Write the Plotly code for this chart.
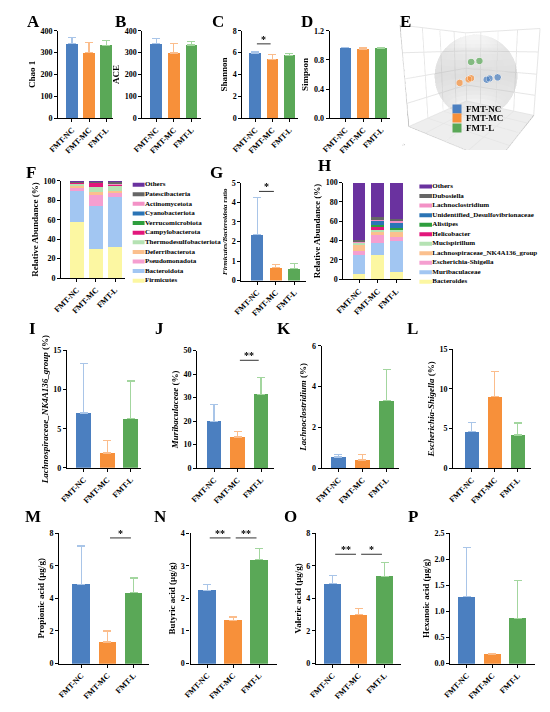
import numpy as np
import plotly.graph_objects as go

W, H = 550, 712
SERIF = 'Liberation Serif, Times New Roman, serif'

groups = ['FMT-NC', 'FMT-MC', 'FMT-L']
bar_colors = ['#4b7fc0', '#f7903a', '#5aa857']
err_colors = ['#a9c5e8', '#fbbd8c', '#a3d69f']

# alpha diversity (mean, sd)
chao1_mean = [340, 300, 333]
chao1_sd = [30, 46, 22]
ace_mean = [340, 298, 335]
ace_sd = [25, 44, 15]
shannon_mean = [5.97, 5.38, 5.77]
shannon_sd = [0.13, 0.42, 0.12]
simpson_mean = [0.97, 0.95, 0.96]
simpson_sd = [0.004, 0.015, 0.004]

# PCA scores
pca_t1 = [12, 14, 22, -22, -10, -8, -5, 2]
pca_t2 = [-1, 0, 2, -9, -4, -3, 12, 13]
pca_t3 = [-3, -2, -4, 5, 3, 4, 0, 2]
pca_grp = [0, 0, 0, 1, 1, 1, 2, 2]

# phylum composition (%), bottom to top
phyla = ['Firmicutes', 'Bacteroidota', 'Pseudomonadota', 'Deferribacterota',
         'Thermodesulfobacteriota', 'Campylobacterota', 'Verrucomicrobiota',
         'Cyanobacteriota', 'Actinomycetota', 'Patescibacteria', 'Others']
phylum_nc = [58.0, 31.2, 4.5, 1.5, 2.5, 0.3, 0.2, 0.2, 0.5, 0.8, 0.3]
phylum_mc = [29.8, 44.8, 11.0, 2.5, 5.5, 4.5, 0.3, 0.2, 0.3, 0.8, 0.3]
phylum_l = [31.5, 51.9, 4.5, 1.5, 6.0, 0.5, 0.3, 0.3, 0.5, 2.0, 1.0]

# genus composition (%), bottom to top
genera = ['Bacteroides', 'Muribaculaceae', 'Escherichia-Shigella',
          'Lachnospiraceae_NK4A136_group', 'Mucispirillum', 'Helicobacter',
          'Alistipes', 'Unidentified_Desulfovibrionaceae', 'Lachnoclostridium',
          'Dubosiella', 'Others']
genus_nc = [5.0, 20.2, 4.4, 7.0, 1.5, 0.2, 0.3, 0.4, 0.5, 1.0, 59.5]
genus_mc = [25.0, 12.5, 9.0, 2.0, 2.5, 4.0, 0.8, 5.0, 0.4, 3.0, 35.8]
genus_l = [8.0, 31.5, 4.2, 6.3, 1.5, 0.5, 1.0, 5.0, 3.3, 1.0, 37.7]

stack_colors = ['#fcf7a2', '#a2c6f2', '#f59fd0', '#fbc08e', '#b5e2b3', '#e2177c',
                '#2e9e3e', '#2b74b5', '#f391c6', '#666666', '#6a329f']

fb_ratio_mean = [2.34, 0.66, 0.60]
fb_ratio_sd = [1.89, 0.16, 0.26]

nk4a136_mean = [7.0, 1.9, 6.3]
nk4a136_sd = [6.3, 1.6, 4.8]
murib_mean = [20.0, 13.3, 31.5]
murib_sd = [7.1, 2.2, 7.2]
lachnocl_mean = [0.55, 0.40, 3.30]
lachnocl_sd = [0.12, 0.25, 1.55]
escher_mean = [4.6, 9.0, 4.2]
escher_sd = [1.2, 3.2, 1.5]

propionic_mean = [4.85, 1.32, 4.35]
propionic_sd = [2.35, 0.68, 0.90]
butyric_mean = [2.25, 1.33, 3.18]
butyric_sd = [0.18, 0.10, 0.35]
valeric_mean = [4.90, 3.00, 5.35]
valeric_sd = [0.50, 0.40, 0.85]
hexanoic_mean = [1.28, 0.18, 0.87]
hexanoic_sd = [0.95, 0.01, 0.72]

fig = go.Figure()
axes = {}
shapes = []
annotations = []


def names(n):
    if n == 1:
        return 'x', 'y', 'xaxis', 'yaxis'
    return f'x{n}', f'y{n}', f'xaxis{n}', f'yaxis{n}'


def make_axes(n, box, yrange, dtick, title, title_size=9, tickformat=None):
    x0, c0, s, x1, yt, yb = box
    xr, yr, xk, yk = names(n)
    axes[xk] = dict(
        domain=[x0 / W, x1 / W], anchor=yr, type='category',
        range=[-(c0 - x0) / s, 2 + (x1 - c0 - 2 * s) / s],
        showline=True, linecolor='black', linewidth=1.3,
        ticks='outside', ticklen=3, tickwidth=1.3, tickcolor='black',
        tickangle=-45, showgrid=False, zeroline=False,
        tickfont=dict(family=SERIF, size=8, color='black', weight='bold'))
    axes[yk] = dict(
        domain=[1 - yb / H, 1 - yt / H], anchor=xr, range=yrange, dtick=dtick,
        showline=True, linecolor='black', linewidth=1.3,
        ticks='outside', ticklen=3, tickwidth=1.3, tickcolor='black',
        showgrid=False, zeroline=False, tickformat=tickformat,
        tickfont=dict(family=SERIF, size=8, color='black', weight='bold'),
        title=dict(text=title, standoff=3,
                   font=dict(family=SERIF, size=title_size, color='black', weight='bold')))
    return xr, yr


def bar_panel(n, box, means, sds, yrange, dtick, title, bw, sig=(),
              title_size=9, tickformat=None):
    xr, yr = make_axes(n, box, yrange, dtick, title, title_size, tickformat)
    for i, g in enumerate(groups):
        fig.add_trace(go.Bar(
            x=[g], y=[means[i]], width=bw, xaxis=xr, yaxis=yr,
            marker=dict(color=bar_colors[i], line=dict(width=0)),
            error_y=dict(type='data', symmetric=False, array=[sds[i]],
                         arrayminus=[0], color=err_colors[i], thickness=1.2, width=4),
            showlegend=False))
    for i, j, yv, txt in sig:
        shapes.append(dict(type='line', xref=xr, yref=yr, x0=i + 0.1, x1=j - 0.1,
                           y0=yv, y1=yv, line=dict(color='#333333', width=1)))
        annotations.append(dict(xref=xr, yref=yr, x=(i + j) / 2, y=yv, text=txt,
                                showarrow=False, yanchor='bottom', yshift=-3,
                                font=dict(family=SERIF, size=10, color='black', weight='bold')))


def stack_panel(n, box, labels, vals, title, bw):
    xr, yr = make_axes(n, box, [0, 100], 20, title)
    for k, lab in enumerate(labels):
        fig.add_trace(go.Bar(
            x=groups, y=[v[k] for v in vals], width=bw, xaxis=xr, yaxis=yr,
            marker=dict(color=stack_colors[k], line=dict(width=0)),
            name=lab, showlegend=False))


def legend_panel(n, x0, x1, yt, yb, labels):
    xr, yr, xk, yk = names(n)
    axes[xk] = dict(domain=[x0 / W, x1 / W], anchor=yr, range=[0, 1], visible=False)
    axes[yk] = dict(domain=[1 - yb / H, 1 - yt / H], anchor=xr,
                    range=[-0.5, len(labels) - 0.5], visible=False)
    fig.add_trace(go.Scatter(
        x=[0.05] * len(labels), y=list(range(len(labels))), xaxis=xr, yaxis=yr,
        mode='markers+text', text=labels, textposition='middle right',
        textfont=dict(family=SERIF, size=7, color='black', weight='bold'),
        marker=dict(symbol='line-ew', size=9, line=dict(width=4, color=stack_colors)),
        showlegend=False, hoverinfo='skip'))


# row 1
bar_panel(1, (40, 54, 17.5, 96, 19, 107.5), chao1_mean, chao1_sd, [0, 400], 100, 'Chao 1', 0.67)
bar_panel(2, (126, 140, 18, 186, 19, 107.5), ace_mean, ace_sd, [0, 400], 100, 'ACE', 0.67)
bar_panel(3, (228, 241, 17.5, 285, 19, 107.5), shannon_mean, shannon_sd, [0, 8], 2, 'Shannon', 0.67,
          sig=[(0, 1, 6.8, '*')])
bar_panel(4, (317, 333, 18.3, 379, 19, 107.5), simpson_mean, simpson_sd, [0, 1.2], 0.4, 'Simpson', 0.65,
          tickformat='.1f')

# row 2
stack_panel(5, (43, 59, 19.5, 108, 171, 269.5), phyla, [phylum_nc, phylum_mc, phylum_l],
            'Relative Abundance (%)', 0.75)
legend_panel(6, 116, 230, 170, 277, phyla)
bar_panel(7, (227, 243, 19, 293, 173, 272), fb_ratio_mean, fb_ratio_sd, [0, 5], 1,
          '<i>Firmicutes/Bacteroidota</i> ratio', 0.65, sig=[(0, 1, 4.56, '*')], title_size=7)
stack_panel(8, (331, 347, 19, 400, 172.7, 270.7), genera, [genus_nc, genus_mc, genus_l],
            'Relative Abundance (%)', 0.68)
legend_panel(9, 408, 548, 172, 278, genera)

# row 3
bar_panel(10, (49, 66, 24, 124, 342.7, 461.7), nk4a136_mean, nk4a136_sd, [0, 15], 5,
          '<i>Lachnospiraceae_NK4A136_group</i> (%)', 0.63)
bar_panel(11, (182, 199, 24, 260, 343, 462), murib_mean, murib_sd, [0, 50], 10,
          '<i>Muribaculaceae</i> (%)', 0.63, sig=[(1, 2, 45.9, '**')])
bar_panel(12, (309, 326, 24.5, 388, 338, 462), lachnocl_mean, lachnocl_sd, [0, 6], 2,
          '<i>Lachnoclostridium</i> (%)', 0.63)
bar_panel(13, (443, 462, 23.5, 522, 341.7, 462), escher_mean, escher_sd, [0, 15], 5,
          '<i>Escherichia-Shigella</i> (%)', 0.63)

# row 4
bar_panel(14, (41, 63.5, 26.7, 133, 527.7, 660), propionic_mean, propionic_sd, [0, 8], 2,
          'Propionic acid (μg/g)', 0.67, sig=[(1, 2, 7.7, '*')])
bar_panel(15, (175, 192, 26.5, 263, 527.7, 660), butyric_mean, butyric_sd, [0, 4], 1,
          'Butyric acid (μg/g)', 0.67, sig=[(0, 1, 3.85, '**'), (1, 2, 3.85, '**')])
bar_panel(16, (303, 320, 26.5, 390, 527.7, 660), valeric_mean, valeric_sd, [0, 8], 2,
          'Valeric acid (μg/g)', 0.67, sig=[(0, 1, 6.7, '**'), (1, 2, 6.7, '*')])
bar_panel(17, (440, 457, 26, 527, 527.7, 660), hexanoic_mean, hexanoic_sd, [0, 2.5], 0.5,
          'Hexanoic acid (μg/g)', 0.67, tickformat='.1f')

# E: 3D PCA with confidence sphere
u = np.linspace(0, 2 * np.pi, 40)
v = np.linspace(0, np.pi, 24)
R = 34
fig.add_trace(go.Surface(
    x=R * np.outer(np.cos(u), np.sin(v)), y=R * np.outer(np.sin(u), np.sin(v)),
    z=R * np.outer(np.ones_like(u), np.cos(v)), scene='scene', opacity=0.2,
    colorscale=[[0, '#c4c4c4'], [1, '#c4c4c4']], showscale=False, hoverinfo='skip',
    lighting=dict(ambient=0.85, diffuse=0.4, specular=0.25)))
for gi, g in enumerate(groups):
    idx = [k for k, p in enumerate(pca_grp) if p == gi]
    fig.add_trace(go.Scatter3d(
        x=[pca_t1[k] for k in idx], y=[pca_t3[k] for k in idx], z=[pca_t2[k] for k in idx],
        mode='markers', scene='scene', name=g, showlegend=False,
        marker=dict(size=4, color=bar_colors[gi], opacity=0.7,
                    line=dict(color='white', width=1))))

ax3 = dict(range=[-40, 40], showbackground=True, backgroundcolor='#ffffff',
           gridcolor='#e6e6e6', linecolor='#999999', showspikes=False,
           tickfont=dict(family=SERIF, size=5, color='#666666'), dtick=20)
fig.update_layout(scene=dict(
    domain=dict(x=[383 / W, 550 / W], y=[1 - 140 / H, 1 - 0 / H]),
    xaxis=dict(ax3, title=dict(text='t[1]', font=dict(family=SERIF, size=8))),
    yaxis=dict(ax3, title=dict(text='t[3]', font=dict(family=SERIF, size=8))),
    zaxis=dict(ax3, title=dict(text='t[2]', font=dict(family=SERIF, size=8)),
               backgroundcolor='#eeeeee'),
    aspectmode='cube',
    camera=dict(eye=dict(x=0.95, y=-1.45, z=0.3), center=dict(x=0, y=0, z=-0.05))))

# E legend (annotations sit above the 3D canvas)
for gi, g in enumerate(groups):
    yy = 1 - (98 + gi * 9.5) / H
    annotations.append(dict(xref='paper', yref='paper', x=447 / W, y=yy, text=' ',
                            showarrow=False, bgcolor=bar_colors[gi], width=8, height=8,
                            borderpad=0, xanchor='center', yanchor='middle'))
    annotations.append(dict(xref='paper', yref='paper', x=454 / W, y=yy, text=g,
                            showarrow=False, xanchor='left', yanchor='middle',
                            font=dict(family=SERIF, size=9, color='black', weight='bold')))

# panel letters
letters = ['A', 'B', 'C', 'D', 'E', 'F', 'G', 'H', 'I', 'J', 'K', 'L', 'M', 'N', 'O', 'P']
letter_pos = [(15, 10), (104, 10), (203, 10), (294, 10), (394, 10),
              (12, 163), (202, 163), (312, 155),
              (14, 321), (143, 321), (270, 321), (402, 321),
              (14, 511), (144, 511), (277, 511), (402, 511)]
for lt, (lx, ly) in zip(letters, letter_pos):
    annotations.append(dict(xref='paper', yref='paper', x=lx / W, y=1 - ly / H, text=lt,
                            showarrow=False, xanchor='center', yanchor='middle',
                            font=dict(family=SERIF, size=17, color='black', weight='bold')))

fig.update_layout(
    width=W, height=H, margin=dict(l=0, r=0, t=0, b=0),
    paper_bgcolor='white', plot_bgcolor='white',
    barmode='stack', showlegend=False,
    shapes=shapes, annotations=annotations, **axes)

fig.write_html('out.html', config={'displayModeBar': False})
